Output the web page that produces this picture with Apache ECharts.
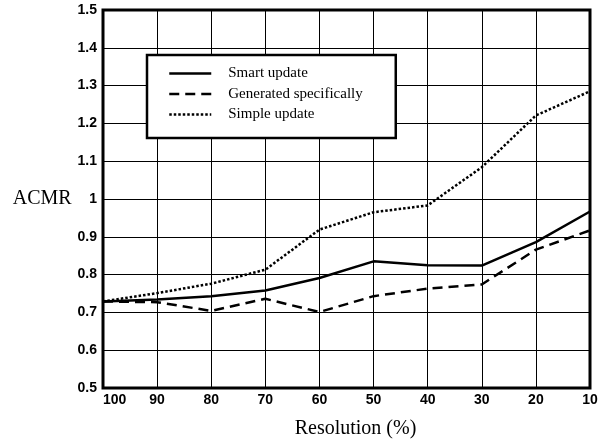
<!DOCTYPE html>
<html>
<head>
<meta charset="utf-8">
<script src="https://cdn.jsdelivr.net/npm/echarts@6/dist/echarts.min.js"></script>
<style>
  html, body { margin: 0; padding: 0; background: #fff; }
  #chart { width: 610px; height: 444px; }
</style>
</head>
<body>
<div id="chart"></div>
<script>
// resolution steps on the x axis
const resolutions = ['100', '90', '80', '70', '60', '50', '40', '30', '20', '10']
const seriesNames = ['Smart update', 'Generated specifically', 'Simple update']

// ACMR values
const smartUpdate = [0.729, 0.734, 0.743, 0.758, 0.791, 0.835, 0.825, 0.824, 0.886, 0.967]
const generatedSpecifically = [0.729, 0.727, 0.704, 0.736, 0.701, 0.743, 0.763, 0.774, 0.866, 0.917]
const simpleUpdate = [0.729, 0.751, 0.776, 0.813, 0.919, 0.965, 0.983, 1.084, 1.221, 1.285]

const serif = '"Liberation Serif", "Times New Roman", serif'
const sans = '"Liberation Sans", Arial, sans-serif'

const chart = echarts.init(document.getElementById('chart'))

const makeLine = (name, data, type) => ({
  name,
  type: 'line',
  data,
  symbol: 'none',
  smooth: false,
  lineStyle: { color: '#000', width: 2.5, type, cap: 'butt' },
  itemStyle: { color: '#000' },
  z: 3,
})

chart.setOption({
  animation: false,
  backgroundColor: '#fff',
  grid: {
    left: 103,
    right: 20,
    top: 10,
    bottom: 56,
    show: true,
    borderColor: '#000',
    borderWidth: 3,
  },
  legend: {
    orient: 'vertical',
    left: 147,
    top: 55,
    padding: [11, 33, 16, 21],
    itemWidth: 42,
    itemHeight: 14,
    itemGap: 5.5,
    borderColor: '#000',
    borderWidth: 2.5,
    backgroundColor: '#fff',
    data: seriesNames,
    // hide the symbol that the line legend icon adds
    itemStyle: { color: 'rgba(0,0,0,0)', borderWidth: 0, opacity: 0 },
    lineStyle: { width: 2.5 },
    textStyle: {
      fontFamily: serif,
      fontSize: 15,
      color: '#000',
      padding: [0, 0, 0, 12],
    },
  },
  xAxis: {
    type: 'category',
    data: resolutions,
    boundaryGap: false,
    name: 'Resolution (%)',
    nameLocation: 'middle',
    nameGap: 31,
    nameTextStyle: {
      fontFamily: serif,
      fontSize: 20,
      color: '#000',
      padding: [0, 0, 0, 18],
    },
    axisLine: { show: false },
    axisTick: { show: false },
    axisLabel: {
      margin: 5,
      fontFamily: sans,
      fontWeight: 'bold',
      fontSize: 14,
      color: '#000',
      alignMinLabel: 'left',
    },
    splitLine: { show: true, lineStyle: { color: '#000', width: 1 } },
  },
  yAxis: {
    type: 'value',
    min: 0.5,
    max: 1.5,
    interval: 0.1,
    name: 'ACMR',
    nameLocation: 'middle',
    nameRotate: 0,
    nameGap: 31,
    nameTextStyle: {
      fontFamily: serif,
      fontSize: 20,
      color: '#000',
      padding: [6, 0, 0, 0],
    },
    axisLine: { show: false },
    axisTick: { show: false },
    axisLabel: {
      margin: 6,
      fontFamily: sans,
      fontWeight: 'bold',
      fontSize: 14,
      color: '#000',
      formatter: (v) => String(Math.round(v * 10) / 10),
    },
    splitLine: { show: true, lineStyle: { color: '#000', width: 1 } },
  },
  series: [
    makeLine(seriesNames[0], smartUpdate, 'solid'),
    makeLine(seriesNames[1], generatedSpecifically, [10, 6]),
    makeLine(seriesNames[2], simpleUpdate, [2.5, 2]),
  ],
})
</script>
</body>
</html>
